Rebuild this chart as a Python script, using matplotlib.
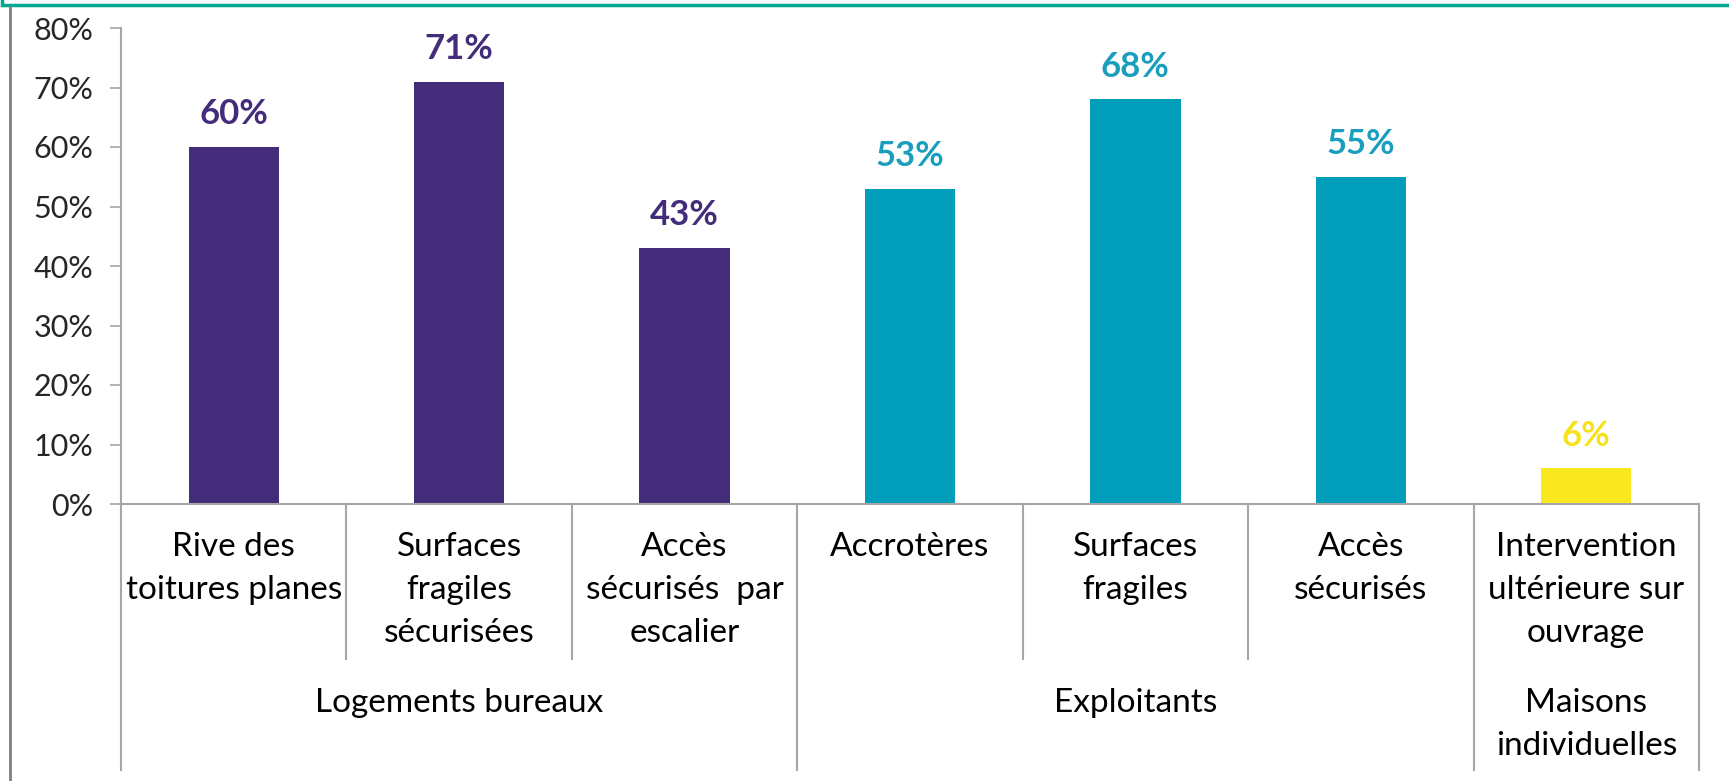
import matplotlib.pyplot as plt
from matplotlib.lines import Line2D
import matplotlib.transforms as mtransforms

# data
categories = ["Rive des\ntoitures planes", "Surfaces\nfragiles\nsécurisées",
              "Accès\nsécurisés  par\nescalier", "Accrotères", "Surfaces\nfragiles",
              "Accès\nsécurisés", "Intervention\nultérieure sur\nouvrage"]
values = [0.60, 0.71, 0.43, 0.53, 0.68, 0.55, 0.06]
groups = ["Logements bureaux", "Exploitants", "Maisons\nindividuelles"]
group_sizes = [3, 3, 1]
group_colors = ["#432C7A", "#009EBB", "#F9E81E"]
label_colors = ["#432C7A", "#1A9EBE", "#F5E21A"]
yticks = [0, 0.1, 0.2, 0.3, 0.4, 0.5, 0.6, 0.7, 0.8]

plt.rcParams['font.family'] = ['Lato', 'DejaVu Sans']

W, H = 1729, 781
x0, x1, y0, y1 = 121, 1699, 504, 28   # axes box in pixels
fig = plt.figure(figsize=(W / 100, H / 100), dpi=100)
ax = fig.add_axes([x0 / W, 1 - y0 / H, (x1 - x0) / W, (y0 - y1) / H])
ah = y0 - y1

bar_colors = []
txt_colors = []
for g, n in enumerate(group_sizes):
    bar_colors += [group_colors[g]] * n
    txt_colors += [label_colors[g]] * n

x = list(range(len(categories)))
ax.bar(x, values, width=0.40, color=bar_colors, zorder=2)
for xi, v, c in zip(x, values, txt_colors):
    ax.annotate(f"{round(v * 100)}%", (xi, v), xytext=(0, 12), textcoords="offset points",
                ha="center", va="bottom", fontsize=25, fontweight="bold", color=c)

ax.set_xlim(-0.5, len(categories) - 0.5)
ax.set_ylim(0, 0.8)
ax.set_yticks(yticks)
ax.set_yticklabels([f"{round(t * 100)}%" for t in yticks], fontsize=22, color="#262626")
ax.tick_params(axis="y", direction="out", length=8, width=1.2, color="#A6A6A6", pad=12)
ax.set_xticks([])
for s in ["top", "right"]:
    ax.spines[s].set_visible(False)
for s in ["left", "bottom"]:
    ax.spines[s].set_color("#A6A6A6")
    ax.spines[s].set_linewidth(1.5)

# multi-level category axis
trans = mtransforms.blended_transform_factory(ax.transData, ax.transAxes)
cat_bottom = -(659 - y0) / ah
grp_bottom = -(770 - y0) / ah
line_kw = dict(transform=trans, color="#A6A6A6", lw=1.5, clip_on=False)

for xi, lab in zip(x, categories):
    ax.text(xi, -28 / ah, lab, transform=trans, ha="center", va="top",
            fontsize=24, linespacing=1.55, color="#000000")

edges = [-0.5]
for n in group_sizes:
    edges.append(edges[-1] + n)
for e in edges:
    ax.add_line(Line2D([e, e], [0, grp_bottom], **line_kw))
for xi in x:
    b = xi + 0.5
    if b not in edges:
        ax.add_line(Line2D([b, b], [0, cat_bottom], **line_kw))

for g, lab in enumerate(groups):
    mid = (edges[g] + edges[g + 1]) / 2
    ax.text(mid, -184 / ah, lab, transform=trans, ha="center", va="top",
            fontsize=24, linespacing=1.55, color="#000000")

# frame bits around the picture
fig.add_artist(Line2D([5 / W, 1], [1 - 5 / H, 1 - 5 / H], color="#00A88F", lw=2.5))
fig.add_artist(Line2D([2 / W, 2 / W], [1, 1 - 5 / H], color="#00A88F", lw=2.5))
fig.add_artist(Line2D([10 / W, 10 / W], [1 - 7 / H, 0], color="#808080", lw=2))

fig.savefig("out.png", dpi=100)
